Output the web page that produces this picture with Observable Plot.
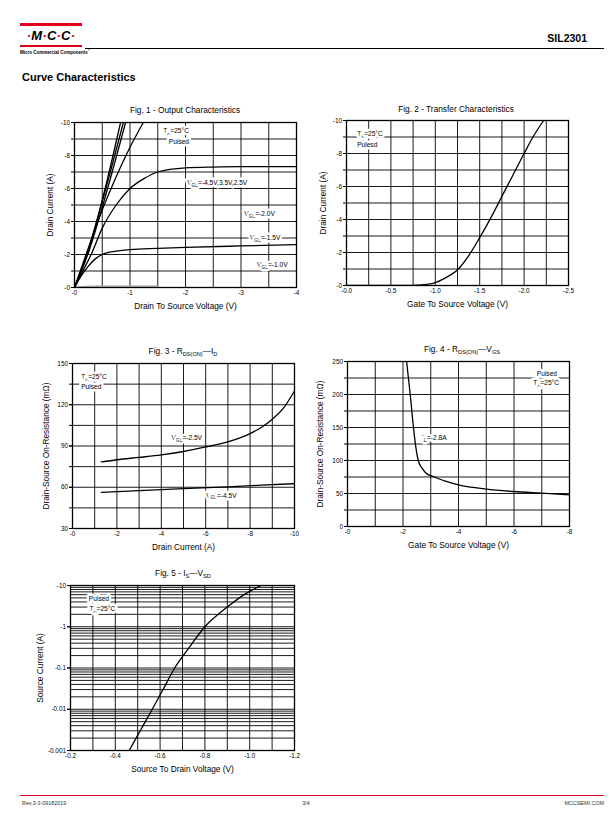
<!DOCTYPE html>
<html><head><meta charset="utf-8">
<script src="https://cdn.jsdelivr.net/npm/d3@7"></script>
<script src="https://cdn.jsdelivr.net/npm/@observablehq/plot@0.6"></script>
<style>
body{margin:0;width:612px;height:825px;position:relative;background:#fff;font-family:"Liberation Sans",Arial,sans-serif;overflow:hidden;color:#000}
.a{position:absolute;white-space:nowrap}
.ttl{position:absolute;white-space:nowrap;font-size:8.3px;transform:translate(-50%,-50%)}
sub{font-size:0.68em;vertical-align:-0.3em;line-height:0}
.red{color:#e2001a}
.chart{position:absolute}
</style></head><body>

<!-- header -->
<div class="a" style="left:20px;top:23px;width:62px;height:2.6px;background:#e2001a"></div>
<div class="a" style="left:19px;top:28px;width:64px;text-align:center;font:italic bold 13px 'Liberation Sans',Arial,sans-serif;letter-spacing:0.2px"><span class="red">·</span>M<span class="red">·</span>C<span class="red">·</span>C<span class="red">·</span></div>
<div class="a" style="left:20px;top:44.5px;width:62px;height:2.4px;background:#e2001a"></div>
<div class="a" style="left:20px;top:47.8px;font:bold 4.5px 'Liberation Sans',Arial,sans-serif">Micro Commercial Components<sup style="font-size:3px">®</sup></div>
<div class="a" style="left:85px;top:48px;width:519px;height:1.1px;background:#000"></div>
<div class="a" style="right:25px;top:31.5px;font:bold 10.5px 'Liberation Sans',Arial,sans-serif">SIL2301</div>
<div class="a" style="left:22px;top:71px;font:bold 11px 'Liberation Sans',Arial,sans-serif">Curve Characteristics</div>

<!-- figure titles -->
<div class="ttl" style="left:185px;top:110px">Fig. 1 - Output Characteristics</div>
<div class="ttl" style="left:456px;top:109px">Fig. 2 - Transfer Characteristics</div>
<div class="ttl" style="left:183px;top:350.5px">Fig. 3 - R<sub>DS(ON)</sub>—I<sub>D</sub></div>
<div class="ttl" style="left:462px;top:348.5px">Fig. 4 - R<sub>DS(ON)</sub>—V<sub>GS</sub></div>
<div class="ttl" style="left:183px;top:573px">Fig. 5 - I<sub>S</sub>—V<sub>SD</sub></div>

<div id="f1" class="chart" style="left:30px;top:114px"></div>
<div id="f2" class="chart" style="left:302px;top:112px"></div>
<div id="f3" class="chart" style="left:28px;top:355px"></div>
<div id="f4" class="chart" style="left:303px;top:353px"></div>
<div id="f5" class="chart" style="left:26px;top:577px"></div>

<!-- footer -->
<div class="a" style="left:20px;top:794.5px;width:584px;height:1.3px;background:#e2001a"></div>
<div class="a" style="left:22px;top:799.5px;font-size:5.4px;color:#333">Rev.3-3-09182019</div>
<div class="a" style="left:306px;top:799.5px;font-size:5.4px;color:#333;transform:translateX(-50%)">3/4</div>
<div class="a" style="right:8px;top:799.5px;font-size:5.4px;color:#333">MCCSEMI.COM</div>

<script>
// ---------- Fig. 1 : Output characteristics (|VDS| V, |ID| A) ----------
const f1_c1_vds = [0, 0.25, 0.5, 0.83];
const f1_c1_id  = [0, 2.3, 5.3, 10];
const f1_c2_vds = [0, 0.25, 0.5, 0.88];
const f1_c2_id  = [0, 2.25, 5.2, 10];
const f1_c3_vds = [0, 0.26, 0.52, 0.92];
const f1_c3_id  = [0, 2.2, 5.1, 10];
const f1_c4_vds = [0, 0.25, 0.5, 0.75, 1.0, 1.24];
const f1_c4_id  = [0, 2.4, 4.7, 6.7, 8.5, 10];
const f1_c5_vds = [0, 0.15, 0.3, 0.5, 0.75, 1.0, 1.25, 1.5, 2.0, 2.5, 3.0, 4.0];
const f1_c5_id  = [0, 1.0, 2.0, 3.6, 5.0, 6.0, 6.6, 7.0, 7.25, 7.3, 7.32, 7.32];
const f1_c6_vds = [0, 0.12, 0.25, 0.38, 0.5, 0.75, 1.0, 1.5, 2, 3, 4];
const f1_c6_id  = [0, 0.7, 1.3, 1.75, 2.0, 2.2, 2.3, 2.37, 2.43, 2.52, 2.6];
const f1_c7_vds = [0, 0.1, 0.5, 1.0, 1.5];
const f1_c7_id  = [0, 0.05, 0.07, 0.08, 0.08];
const f1_xTicks = [0, 1, 2, 3, 4];
const f1_yTicks = [0, 2, 4, 6, 8, 10];
const f1_xGrid = [0.5, 1, 1.5, 2, 2.5, 3, 3.5];
const f1_yGrid = [1, 2, 3, 4, 5, 6, 7, 8, 9];
const f1_yAll = [0, 1, 2, 3, 4, 5, 6, 7, 8, 9, 10];
const f1_lblX = [1.6, 1.7, 2.03, 3.06, 3.16, 3.29];
const f1_lblY = [9.5, 8.8, 6.35, 4.47, 2.99, 1.37];
const f1_lblT = ["T_{A}=25°C", "Pulsed", "V_{GS}=-4.5V,3.5V,2.5V", "V_{GS}=-2.0V", "V_{GS}=-1.5V", "V_{GS}=-1.0V"];

// ---------- Fig. 2 : Transfer characteristics (|VGS| V, |ID| A) ----------
const f2_vgs = [0, 0.25, 0.5, 0.75, 0.85, 1.0, 1.1, 1.25, 1.375, 1.5, 1.625, 1.75, 1.875, 2.0, 2.1, 2.22];
const f2_id  = [0, 0, 0, 0.01, 0.04, 0.18, 0.42, 0.95, 1.8, 2.9, 4.1, 5.4, 6.7, 8.0, 9.0, 10];
const f2_xTicks = [0, 0.5, 1.0, 1.5, 2.0, 2.5];
const f2_yTicks = [0, 2, 4, 6, 8, 10];
const f2_xGrid = [0.25, 0.5, 0.75, 1.0, 1.25, 1.5, 1.75, 2.0, 2.25];
const f2_yGrid = [1, 2, 3, 4, 5, 6, 7, 8, 9];
const f2_yAll = [0, 1, 2, 3, 4, 5, 6, 7, 8, 9, 10];
const f2_lblX = [0.12, 0.12];
const f2_lblY = [9.2, 8.55];
const f2_lblT = ["T_{A}=25°C", "Pulesd"];

// ---------- Fig. 3 : RDS(on) vs ID (|ID| A, mOhm) ----------
const f3_id25 = [1.3, 2, 3, 4, 5, 6, 7, 8, 8.5, 9, 9.5, 10];
const f3_r25  = [78.4, 80.0, 81.7, 83.5, 86, 89.3, 93, 99, 103.5, 109.5, 117.5, 130];
const f3_id45 = [1.3, 3, 5, 7, 8.5, 10];
const f3_r45  = [56.3, 57.6, 59.0, 60.3, 61.5, 62.6];
const f3_xTicks = [0, 2, 4, 6, 8, 10];
const f3_yTicks = [30, 60, 90, 120, 150];
const f3_xGrid = [1, 2, 3, 4, 5, 6, 7, 8, 9];
const f3_yGrid = [45, 60, 75, 90, 105, 120, 135];
const f3_yAll = [30, 45, 60, 75, 90, 105, 120, 135, 150];
const f3_lblX = [0.39, 0.39, 4.46, 6.02];
const f3_lblY = [140.5, 132.8, 95.7, 54];
const f3_lblT = ["T_{A}=25°C", "Pulsed", "V_{GS}=-2.5V", "V_{GS}=-4.5V"];

// ---------- Fig. 4 : RDS(on) vs VGS (|VGS| V, mOhm) ----------
const f4_vgs = [2.13, 2.26, 2.38, 2.45, 2.55, 2.71, 2.89, 3.01, 3.5, 4, 5, 6, 7, 8];
const f4_r   = [250, 200, 149, 124, 100, 87, 79, 77, 69, 63, 56.6, 53, 50.5, 48];
const f4_xTicks = [0, 2, 4, 6, 8];
const f4_yTicks = [0, 50, 100, 150, 200, 250];
const f4_xGrid = [1, 2, 3, 4, 5, 6, 7];
const f4_yGrid = [25, 50, 75, 100, 125, 150, 175, 200, 225];
const f4_yAll = [0, 25, 50, 75, 100, 125, 150, 175, 200, 225, 250];
const f4_lblX = [7.55, 7.62, 2.68];
const f4_lblY = [232, 217, 134.8];
const f4_lblT = ["Pulsed", "T_{A}=25°C", "I_{D}=-2.8A"];
const f4_lblA = ["end", "end", "start"];

// ---------- Fig. 5 : IS vs VSD (|VSD| V, |IS| A, log) ----------
const f5_vsd = [0.462, 0.511, 0.565, 0.613, 0.665, 0.727, 0.80, 0.90, 0.975, 1.05];
const f5_is  = [0.001, 0.003, 0.01, 0.03, 0.1, 0.3, 1, 3, 6, 10];
const f5_xTicks = [0.2, 0.4, 0.6, 0.8, 1.0, 1.2];
const f5_yTicks = [0.001, 0.01, 0.1, 1, 10];
const f5_xGrid = [0.3, 0.4, 0.5, 0.6, 0.7, 0.8, 0.9, 1.0, 1.1];
const f5_yGrid = [0.002, 0.003, 0.004, 0.005, 0.006, 0.007, 0.008, 0.009,
  0.01, 0.02, 0.03, 0.04, 0.05, 0.06, 0.07, 0.08, 0.09,
  0.1, 0.2, 0.3, 0.4, 0.5, 0.6, 0.7, 0.8, 0.9,
  1, 2, 3, 4, 5, 6, 7, 8, 9];
const f5_lblX = [0.282, 0.285];
const f5_lblY = [4.7, 2.7];
const f5_lblT = ["Pulsed", "T_{A}=25°C"];

// ---------- helpers ----------
const FONT = "Liberation Sans, Arial, Helvetica, sans-serif";
const TICK_FS = 6.4, LBL_FS = 8.3, ANN_FS = 6.6;

function rows(xs, ys, curve) { return xs.map((x, i) => ({curve, x, y: ys[i]})); }
function labels(xs, ys, ts, anchors) { return xs.map((x, i) => ({x, y: ys[i], t: ts[i], a: anchors ? anchors[i] : "start"})); }

function applySubs(svg) {
  d3.select(svg).selectAll("text").each(function () {
    const t = this.textContent;
    if (!t.includes("_{")) return;
    const fs = ANN_FS;
    const parts = t.split(/(_\{[^}]*\})/).filter(p => p);
    while (this.firstChild) this.removeChild(this.firstChild);
    let low = false;
    for (const p of parts) {
      const ts = document.createElementNS("http://www.w3.org/2000/svg", "tspan");
      if (p.startsWith("_{")) {
        ts.textContent = p.slice(2, -1);
        ts.setAttribute("font-size", (fs * 0.68).toFixed(2));
        ts.setAttribute("dy", (fs * 0.28).toFixed(2));
        low = true;
      } else {
        ts.textContent = p;
        if (low) { ts.setAttribute("dy", (-fs * 0.28).toFixed(2)); low = false; }
      }
      this.appendChild(ts);
    }
  });
}

function annMarks(ann) {
  const common = {x: "x", y: "y", text: "t", lineAnchor: "middle", fontSize: ANN_FS, fill: "#000", stroke: "#fff", strokeWidth: 5};
  return [
    Plot.text(ann.filter(d => d.a === "start"), {...common, textAnchor: "start"}),
    Plot.text(ann.filter(d => d.a === "end"), {...common, textAnchor: "end"})
  ];
}

function chart(o) {
  const marks = [
    Plot.gridX(o.xGrid, {stroke: "#000", strokeOpacity: 1, strokeWidth: 0.9}),
    Plot.gridY(o.yGrid, {stroke: "#000", strokeOpacity: 1, strokeWidth: 0.9}),
    Plot.frame({stroke: "#000", strokeWidth: 1.3}),
    Plot.axisY({ticks: o.yAll, tickSize: 3, tickFormat: () => "", label: null}),
    Plot.axisY({ticks: o.yTicks, tickSize: 3, tickPadding: 1.5, tickFormat: o.yFmt, label: null, fontSize: TICK_FS}),
    Plot.axisX({ticks: o.xTicks, tickSize: 0, tickPadding: 3, tickFormat: o.xFmt, label: null, fontSize: TICK_FS}),
    Plot.text([o.xLabel], {text: d => d, frameAnchor: "bottom", textAnchor: "middle", dy: 19, lineAnchor: "middle", fontSize: LBL_FS}),
    Plot.text([o.yLabel], {text: d => d, frameAnchor: "left", textAnchor: "middle", rotate: -90, dx: -o.yLabelOff, lineAnchor: "middle", fontSize: LBL_FS}),
    ...o.lines,
    ...annMarks(o.ann)
  ];
  const svg = Plot.plot({
    width: o.width || 276, height: 210,
    marginLeft: 44, marginRight: o.width ? o.width - 44 - 224 : 10, marginTop: 8, marginBottom: 37,
    style: {fontFamily: FONT, background: "none", overflow: "visible", color: "#000"},
    x: {domain: o.xDomain},
    y: {domain: o.yDomain, type: o.yType || "linear"},
    marks
  });
  applySubs(svg);
  return svg;
}

function lineMark(data, stroke = "#000", width = 1.3) {
  return Plot.line(data, {x: "x", y: "y", z: "curve", stroke, strokeWidth: width, curve: "monotone-x", clip: true});
}

const neg = d => "-" + d;
const neg1 = d => "-" + d.toFixed(1);

// Fig 1
const f1Data = [].concat(
  rows(f1_c1_vds, f1_c1_id, "c1"), rows(f1_c2_vds, f1_c2_id, "c2"), rows(f1_c3_vds, f1_c3_id, "c3"),
  rows(f1_c4_vds, f1_c4_id, "c4"), rows(f1_c5_vds, f1_c5_id, "c5"), rows(f1_c6_vds, f1_c6_id, "c6"));
document.getElementById("f1").append(chart({
  xDomain: [0, 4], yDomain: [0, 10], xGrid: f1_xGrid, yGrid: f1_yGrid, yAll: f1_yAll,
  xTicks: f1_xTicks, yTicks: f1_yTicks, xFmt: neg, yFmt: neg,
  xLabel: "Drain To Source Voltage (V)", yLabel: "Drain Current (A)", yLabelOff: 24,
  lines: [lineMark(rows(f1_c7_vds, f1_c7_id, "c7"), "#9a9a9a", 1.6), lineMark(f1Data)],
  ann: labels(f1_lblX, f1_lblY, f1_lblT)
}));

// Fig 2
document.getElementById("f2").append(chart({
  xDomain: [0, 2.5], yDomain: [0, 10], xGrid: f2_xGrid, yGrid: f2_yGrid, yAll: f2_yAll,
  xTicks: f2_xTicks, yTicks: f2_yTicks, xFmt: neg1, yFmt: neg,
  xLabel: "Gate To Source Voltage (V)", yLabel: "Drain Current (A)", yLabelOff: 23,
  lines: [lineMark(rows(f2_vgs, f2_id, "t"))],
  ann: labels(f2_lblX, f2_lblY, f2_lblT)
}));

// Fig 3
document.getElementById("f3").append(chart({
  xDomain: [0, 10], yDomain: [30, 150], xGrid: f3_xGrid, yGrid: f3_yGrid, yAll: f3_yAll,
  xTicks: f3_xTicks, yTicks: f3_yTicks, xFmt: neg, yFmt: d => String(d),
  xLabel: "Drain Current (A)", yLabel: "Drain-Source On-Resistance (mΩ)", yLabelOff: 26,
  lines: [lineMark([].concat(rows(f3_id25, f3_r25, "a"), rows(f3_id45, f3_r45, "b")))],
  ann: labels(f3_lblX, f3_lblY, f3_lblT)
}));

// Fig 4
document.getElementById("f4").append(chart({
  xDomain: [0, 8], yDomain: [0, 250], xGrid: f4_xGrid, yGrid: f4_yGrid, yAll: f4_yAll,
  xTicks: f4_xTicks, yTicks: f4_yTicks, xFmt: neg, yFmt: d => String(d),
  xLabel: "Gate To Source Voltage (V)", yLabel: "Drain-Source On-Resistance (mΩ)", yLabelOff: 27,
  lines: [lineMark(rows(f4_vgs, f4_r, "r"))],
  ann: labels(f4_lblX, f4_lblY, f4_lblT, f4_lblA)
}));

// Fig 5
document.getElementById("f5").append(chart({
  width: 278,
  xDomain: [0.2, 1.2], yDomain: [0.001, 10], yType: "log", xGrid: f5_xGrid, yGrid: f5_yGrid,
  yAll: f5_yTicks, xTicks: f5_xTicks, yTicks: f5_yTicks, xFmt: neg1, yFmt: neg,
  xLabel: "Source To Drain Voltage (V)", yLabel: "Source Current (A)", yLabelOff: 30,
  lines: [lineMark(rows(f5_vsd, f5_is, "s"))],
  ann: labels(f5_lblX, f5_lblY, f5_lblT)
}));
</script>
</body></html>
